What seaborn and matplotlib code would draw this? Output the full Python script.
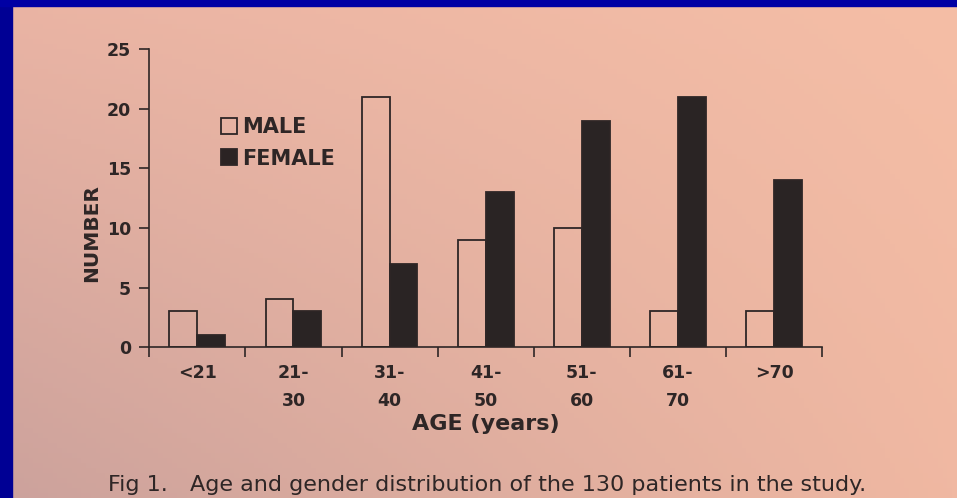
"""
Age and gender distribution bar chart (Fig 1), redrawn on a pink page background.
"""

import numpy as np
import pandas as pd
import matplotlib
matplotlib.use("Agg")
import matplotlib.pyplot as plt
from matplotlib.patches import Rectangle, Patch
import seaborn as sns

# data
age_groups = ["<21", "21-\n30", "31-\n40", "41-\n50", "51-\n60", "61-\n70", ">70"]
male = [3, 4, 21, 9, 10, 3, 3]
female = [1, 3, 7, 13, 19, 21, 14]
genders = ["MALE", "FEMALE"]
y_ticks = [0, 5, 10, 15, 20, 25]

INK = "#2e2626"
BAR_DARK = "#2b2323"

df = pd.DataFrame({
    "age": age_groups * 2,
    "gender": [genders[0]] * len(male) + [genders[1]] * len(female),
    "count": male + female,
})

sns.set_theme(style="ticks")
plt.rcParams["font.family"] = ["DejaVu Sans"]
plt.rcParams["text.color"] = INK
plt.rcParams["axes.labelcolor"] = INK
plt.rcParams["xtick.color"] = INK
plt.rcParams["ytick.color"] = INK

fig = plt.figure(figsize=(9.57, 4.98), dpi=100)

# page background: soft gradient like the photographed paper
bg = fig.add_axes([0, 0, 1, 1], zorder=-10)
tl = np.array([234, 180, 164]) / 255
tr = np.array([245, 190, 166]) / 255
bl = np.array([204, 162, 156]) / 255
br = np.array([240, 184, 162]) / 255
u = np.linspace(0, 1, 200)[None, :, None]
v = np.linspace(0, 1, 100)[:, None, None]
img = (1 - v) * ((1 - u) * tl + u * tr) + v * ((1 - u) * bl + u * br)
bg.imshow(img, aspect="auto", extent=[0, 1, 0, 1])
bg.set_axis_off()

# blue slide border (left and top)
fig.patches.append(Rectangle((0, 0), 12 / 957, 1, transform=fig.transFigure,
                             color="#000094", zorder=5))
fig.patches.append(Rectangle((0, 1 - 6 / 498), 1, 6 / 498, transform=fig.transFigure,
                             color="#0000a4", zorder=5))

ax = fig.add_axes([0.156, 0.303, 0.703, 0.598])
ax.set_facecolor("none")
sns.barplot(data=df, x="age", y="count", hue="gender", hue_order=genders,
            palette={"MALE": "white", "FEMALE": BAR_DARK}, width=0.58,
            edgecolor=INK, linewidth=1.3, legend=False, ax=ax)
for bar in ax.containers[0]:
    bar.set_facecolor("none")

sns.despine(ax=ax)
for side in ("left", "bottom"):
    ax.spines[side].set_color(INK)
    ax.spines[side].set_linewidth(1.2)

ax.set_ylim(0, 25)
ax.set_yticks(y_ticks)
ax.set_xlim(-0.5, len(age_groups) - 0.5)
ax.set_xticks(range(len(age_groups)))
ax.set_xticks(np.arange(len(age_groups) + 1) - 0.5, minor=True)
ax.set_xticklabels(age_groups, fontsize=12.5, fontweight="bold", linespacing=1.75,
                   va="top")
ax.tick_params(axis="x", which="major", length=0, pad=12)
ax.tick_params(axis="x", which="minor", length=7, width=1.2, direction="out", color=INK)
ax.tick_params(axis="y", length=7, width=1.2, pad=6, labelsize=12.5, color=INK)
for lbl in ax.get_yticklabels():
    lbl.set_fontweight("bold")

ax.set_xlabel("AGE (years)", fontsize=16, fontweight="bold")
ax.xaxis.set_label_coords(0.5, -0.258)
ax.xaxis.label.set_verticalalignment("center")
ax.set_ylabel("NUMBER", fontsize=14.5, fontweight="bold")
ax.yaxis.set_label_coords(-0.086, 0.383)
ax.yaxis.label.set_verticalalignment("center")

handles = [Patch(facecolor="none", edgecolor=INK, linewidth=1.3),
           Patch(facecolor=BAR_DARK, edgecolor=INK, linewidth=1.3)]
ax.legend(handles, genders, loc="upper left", bbox_to_anchor=(0.078, 0.835),
          frameon=False, handlelength=0.8, handleheight=0.8, handletextpad=0.25,
          labelspacing=0.55, prop={"size": 15, "weight": "bold"})

fig.text(108 / 957, 1 - 485 / 498, "Fig 1.", fontsize=16, va="center", ha="left")
fig.text(190 / 957, 1 - 485 / 498,
         "Age and gender distribution of the 130 patients in the study.",
         fontsize=16, va="center", ha="left")

plt.savefig("out.png", dpi=100)
plt.close()
